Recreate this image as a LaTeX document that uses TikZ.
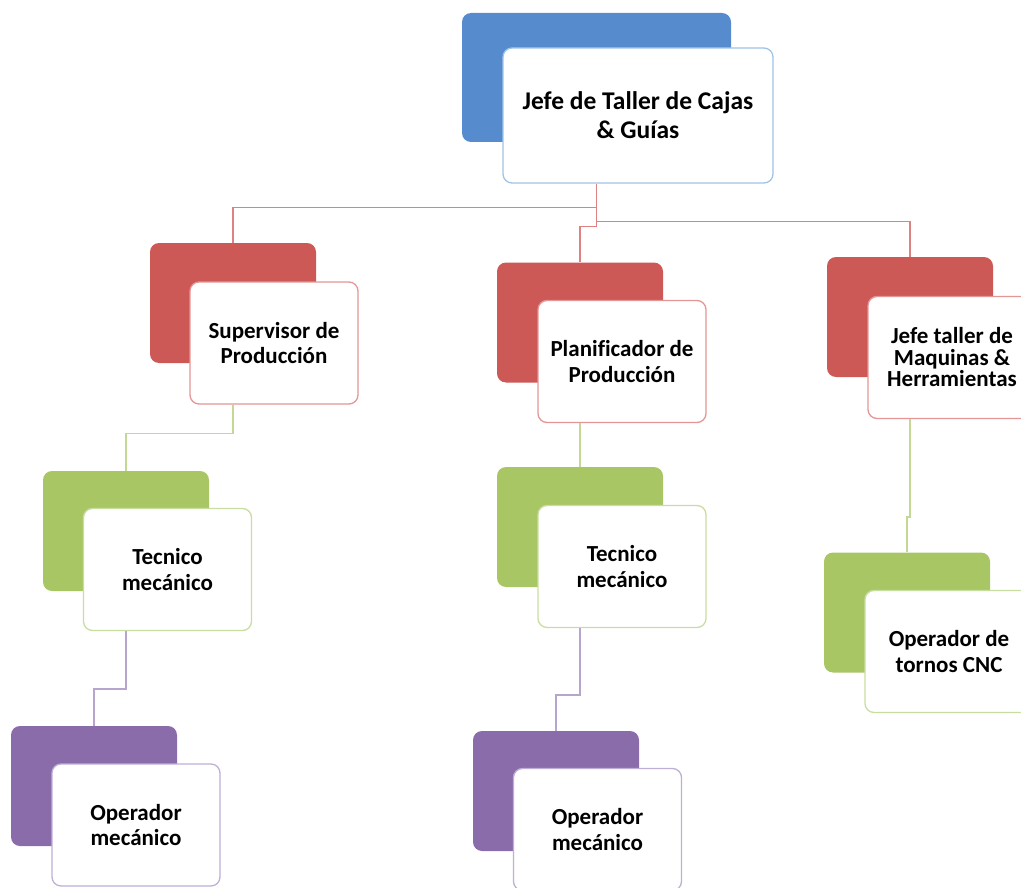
\documentclass[tikz,border=0pt]{standalone}
\usepackage{fontspec}
\setmainfont{Carlito}[Ligatures=NoCommon]
\definecolor{bBlue}{RGB}{86,140,206}
\definecolor{bRed}{RGB}{205,89,87}
\definecolor{bGreen}{RGB}{169,198,101}
\definecolor{bPurple}{RGB}{139,108,170}
\definecolor{lBlue}{RGB}{160,195,232}
\definecolor{lRed}{RGB}{228,150,150}
\definecolor{lGreen}{RGB}{200,222,160}
\definecolor{lPurple}{RGB}{190,175,215}
\definecolor{cRed}{RGB}{220,130,128}
\definecolor{cGreen}{RGB}{196,216,150}
\definecolor{cPurple}{RGB}{182,165,205}
\tikzset{
  backbox/.style={rectangle, rounded corners=9pt, inner sep=0pt, minimum width=166pt, minimum height=120pt},
  frontbox/.style={rectangle, rounded corners=9pt, fill=white, line width=1.3pt, inner sep=0pt,
     minimum width=168pt, minimum height=122pt, align=center, font=\bfseries\fontsize{23}{25.5}\selectfont},
  conn/.style={line width=1.6pt}
}
\begin{document}
\begin{tikzpicture}[x=1pt,y=-1pt]
\useasboundingbox (0,0) rectangle (1021,888);
\clip (0,0) rectangle (1021,888);
% top
\node[backbox, fill=bBlue, minimum width=269pt, minimum height=129pt] (b0) at (596.5,77.5) {};
\node[frontbox, draw=lBlue, minimum width=270pt, minimum height=135pt, font=\bfseries\fontsize{25.5}{29}\selectfont] (f0) at (638,115.5) {Jefe de Taller de Cajas\\\& Guías};
% level 2
\node[backbox, fill=bRed] (b1) at (233,303) {};
\node[frontbox, draw=lRed] (f1) at (274,343) {Supervisor de\\Producción};
\node[backbox, fill=bRed] (b2) at (580,322.5) {};
\node[frontbox, draw=lRed] (f2) at (622,361.5) {Planificador de\\Producción};
\node[backbox, fill=bRed] (b3) at (910,317) {};
\node[frontbox, draw=lRed, font=\bfseries\fontsize{23}{21.5}\selectfont] (f3) at (952,357.5) {Jefe taller de\\Maquinas \&\\Herramientas};
% level 3
\node[backbox, fill=bGreen] (b4) at (126,531) {};
\node[frontbox, draw=lGreen] (f4) at (167.5,569.5) {Tecnico\\mecánico};
\node[backbox, fill=bGreen] (b5) at (580,527) {};
\node[frontbox, draw=lGreen] (f5) at (622,566.5) {Tecnico\\mecánico};
\node[backbox, fill=bGreen] (b6) at (907,612.5) {};
\node[frontbox, draw=lGreen] (f6) at (949,651.5) {Operador de\\tornos CNC};
% level 4
\node[backbox, fill=bPurple] (b7) at (94,786) {};
\node[frontbox, draw=lPurple] (f7) at (136,825) {Operador\\mecánico};
\node[backbox, fill=bPurple] (b8) at (556,791) {};
\node[frontbox, draw=lPurple] (f8) at (597.5,829.5) {Operador\\mecánico};
% connectors
\coordinate (t0) at (b0 |- f0.south);
\draw[conn, cRed] (t0) -- ++(0,43) -| (b2.north);
\draw[conn, cRed] (t0) ++(0,24) -| (b1.north);
\draw[conn, cRed] (t0) ++(0,38) -| (b3.north);
\draw[conn, cGreen] (b1 |- f1.south) -- ++(0,29) -| (b4.north);
\draw[conn, cGreen] (b2 |- f2.south) -- (b5.north);
\draw[conn, cGreen] (b3 |- f3.south) -- ++(0,98) -| (b6.north);
\draw[conn, cPurple] (b4 |- f4.south) -- ++(0,58) -| (b7.north);
\draw[conn, cPurple] (b5 |- f5.south) -- ++(0,67) -| (b8.north);
\end{tikzpicture}
\end{document}
